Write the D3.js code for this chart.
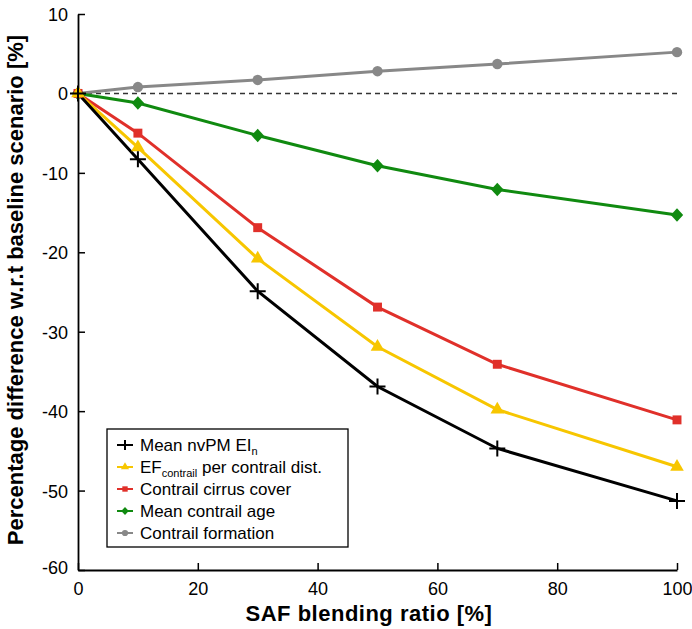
<!DOCTYPE html>
<html lang="en">
<head>
  <meta charset="utf-8">
  <script src="https://d3js.org/d3.v7.min.js"></script>
  <style>
    body { margin: 0; background: #fff; }
    text { font-family: "Liberation Sans", Arial, sans-serif; }
  </style>
</head>
<body>
  <script type="text/javascript">
    // data
    var blendRatio = [0, 10, 30, 50, 70, 100];
    var nvpm = [0, -8.3, -24.9, -36.9, -44.7, -51.3];
    var efContrail = [0, -6.8, -20.8, -31.9, -39.8, -47.0];
    var cirrusCover = [0, -5.0, -16.9, -26.9, -34.1, -41.1];
    var contrailAge = [0, -1.2, -5.3, -9.1, -12.1, -15.3];
    var formation = [0, 0.8, 1.7, 2.8, 3.7, 5.2];
    var xTicks = [0, 20, 40, 60, 80, 100];
    var yTicks = [10, 0, -10, -20, -30, -40, -50, -60];

    var series = [
      { name: "nvpm", values: nvpm, color: "#000000", marker: "asterisk" },
      { name: "ef", values: efContrail, color: "#f7c600", marker: "triangle" },
      { name: "cirrus", values: cirrusCover, color: "#e0302a", marker: "square" },
      { name: "age", values: contrailAge, color: "#108a10", marker: "diamond" },
      { name: "formation", values: formation, color: "#888888", marker: "circle" }
    ];
    var legendOrder = ["nvpm", "ef", "cirrus", "age", "formation"];

    // dimensions
    var dim = { width: 692, height: 629, left: 78, right: 677, top: 14, bottom: 570 };

    var svg = d3.select("body").append("svg")
      .attr("width", dim.width)
      .attr("height", dim.height);

    var xScale = d3.scaleLinear().domain([0, 100]).range([dim.left, dim.right]);
    var yScale = d3.scaleLinear().domain([-60, 10]).range([dim.bottom, dim.top]);

    // zero reference line
    svg.append("line")
      .attr("x1", xScale(0)).attr("x2", xScale(100))
      .attr("y1", yScale(0)).attr("y2", yScale(0))
      .attr("stroke", "#333").attr("stroke-width", 1.5)
      .attr("stroke-dasharray", "5,4");

    // axes, plain hyphen for negatives
    var fmt = function(d) { return String(d); };
    var xAxis = d3.axisBottom(xScale).tickValues(xTicks).tickFormat(fmt)
      .tickSizeInner(-7).tickSizeOuter(0).tickPadding(12);
    var yAxis = d3.axisLeft(yScale).tickValues(yTicks).tickFormat(fmt)
      .tickSizeInner(-7).tickSizeOuter(0).tickPadding(10);

    var gx = svg.append("g")
      .attr("transform", "translate(0," + dim.bottom + ")")
      .call(xAxis);
    var gy = svg.append("g")
      .attr("transform", "translate(" + dim.left + ",0)")
      .call(yAxis);

    [gx, gy].forEach(function(g) {
      g.select(".domain").attr("stroke", "#000").attr("stroke-width", 1.8);
      g.selectAll(".tick line").attr("stroke", "#000").attr("stroke-width", 1.5);
      g.selectAll(".tick text").attr("font-size", 18).attr("fill", "#000")
        .style("font-family", "Liberation Sans, Arial, sans-serif");
    });
    gy.selectAll(".tick text").attr("dy", "0.36em");
    gy.selectAll(".tick text").filter(function(d) { return d === -60; }).attr("dy", "0.2em");

    // lines
    var line = d3.line()
      .x(function(d, i) { return xScale(blendRatio[i]); })
      .y(function(d) { return yScale(d); });

    var drawOrder = series.slice().reverse();
    drawOrder.forEach(function(s) {
      svg.append("path")
        .datum(s.values)
        .attr("d", line)
        .attr("fill", "none")
        .attr("stroke", s.color)
        .attr("stroke-width", 3);
    });

    function drawMarker(g, type, color, size) {
      if (type === "asterisk") {
        var r = size;
        g.append("path").attr("d", "M" + (-r) + ",0L" + r + ",0M0," + (-r) + "L0," + r)
          .attr("stroke", color).attr("stroke-width", 2).attr("fill", "none");
      } else if (type === "diamond") {
        var w = size * 0.62, h = size * 0.68;
        g.append("path")
          .attr("d", "M0," + (-h) + "L" + w + ",0L0," + h + "L" + (-w) + ",0Z")
          .attr("fill", color);
      } else {
        var sym = { triangle: d3.symbolTriangle, square: d3.symbolSquare,
          circle: d3.symbolCircle }[type];
        var area = { triangle: size * size * 0.8, square: size * size * 0.8,
          circle: size * size * 0.85 }[type];
        g.append("path")
          .attr("d", d3.symbol().type(sym).size(area)())
          .attr("fill", color);
      }
    }

    drawOrder.forEach(function(s) {
      s.values.forEach(function(v, i) {
        var g = svg.append("g")
          .attr("transform", "translate(" + xScale(blendRatio[i]) + "," + yScale(v) + ")");
        drawMarker(g, s.marker, s.color, s.marker === "asterisk" ? 8 : 10);
      });
    });

    // axis titles
    svg.append("text")
      .attr("x", 369)
      .attr("y", 621)
      .attr("text-anchor", "middle")
      .attr("font-size", 22)
      .attr("font-weight", "bold")
      .attr("letter-spacing", 0.5)
      .text("SAF blending ratio [%]");

    svg.append("text")
      .attr("transform", "translate(23,290) rotate(-90)")
      .attr("text-anchor", "middle")
      .attr("font-size", 22)
      .attr("font-weight", "bold")
      .text("Percentage difference w.r.t baseline scenario [%]");

    // legend
    var legend = svg.append("g").attr("transform", "translate(107,429)");
    legend.append("rect")
      .attr("width", 241).attr("height", 118)
      .attr("fill", "#fff").attr("stroke", "#000").attr("stroke-width", 1.3);

    legendOrder.forEach(function(key, i) {
      var s = series.filter(function(d) { return d.name === key; })[0];
      var row = legend.append("g").attr("transform", "translate(0," + (16 + i * 22) + ")");
      row.append("line")
        .attr("x1", 10).attr("x2", 26).attr("y1", 0).attr("y2", 0)
        .attr("stroke", s.color).attr("stroke-width", 2);
      var mg = row.append("g").attr("transform", "translate(18,0)");
      drawMarker(mg, s.marker, s.color, s.marker === "asterisk" ? 5 : 6);
      var t = row.append("text")
        .attr("x", 33).attr("y", 6)
        .attr("font-size", 17).attr("fill", "#000");
      if (key === "nvpm") {
        t.append("tspan").text("Mean nvPM EI");
        t.append("tspan").attr("font-size", 11).attr("dy", 4).text("n");
      } else if (key === "ef") {
        t.append("tspan").text("EF");
        t.append("tspan").attr("font-size", 11).attr("dy", 4).text("contrail");
        t.append("tspan").attr("dy", -4).text(" per contrail dist.");
      } else if (key === "cirrus") {
        t.text("Contrail cirrus cover");
      } else if (key === "age") {
        t.text("Mean contrail age");
      } else {
        t.text("Contrail formation");
      }
    });
  </script>
</body>
</html>
